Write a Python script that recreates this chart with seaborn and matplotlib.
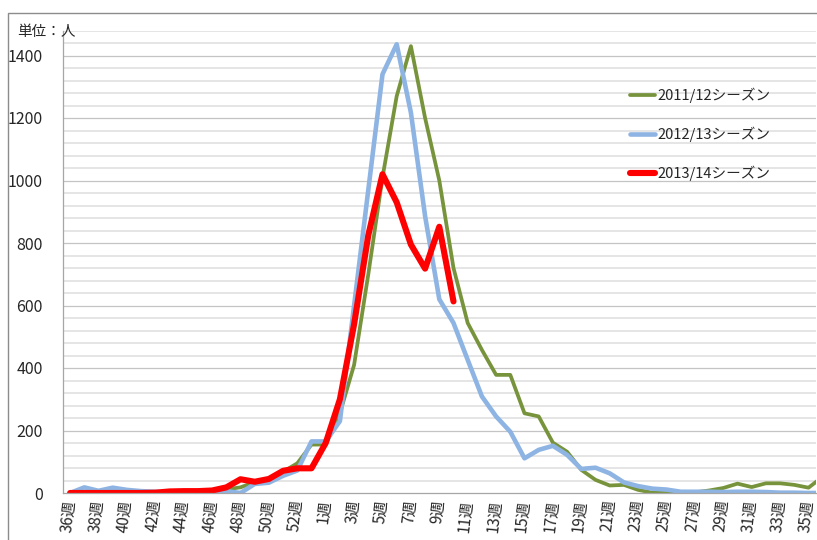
import numpy as np
import pandas as pd
import matplotlib
matplotlib.use("Agg")
import matplotlib.pyplot as plt
import seaborn as sns
from matplotlib.patches import Rectangle
from matplotlib.ticker import FixedLocator

# ---------------- data ----------------
weeks = ["36週", "37週", "38週", "39週", "40週", "41週", "42週", "43週", "44週",
         "45週", "46週", "47週", "48週", "49週", "50週", "51週", "52週", "53週",
         "1週", "2週", "3週", "4週", "5週", "6週", "7週", "8週", "9週", "10週",
         "11週", "12週", "13週", "14週", "15週", "16週", "17週", "18週", "19週",
         "20週", "21週", "22週", "23週", "24週", "25週", "26週", "27週", "28週",
         "29週", "30週", "31週", "32週", "33週", "34週", "35週", "36週"]

season_1112 = [2, 2, 2, 2, 2, 2, 2, 3, 5, 7, 9, 12, 18, 35, 42, 68, 95, 155,
               155, 255, 410, 700, 1010, 1270, 1430, 1200, 1000, 720, 544, 458,
               378, 378, 255, 245, 161, 132, 74, 42, 24, 26, 10, 1, 0, 0,
               2, 8, 16, 30, 19, 31, 31, 26, 17, 52]

season_1213 = [0, 18, 7, 17, 10, 6, 4, 2, 2, 3, 5, 6, 0, 29, 33, 55, 72, 165,
               165, 230, 600, 970, 1340, 1436, 1217, 886, 620, 544, 426, 309,
               245, 196, 111, 138, 151, 122, 77, 81, 63, 34, 22, 14, 11, 4,
               4, 4, 3, 4, 4, 3, 1, 1, 0, 0]

season_1314 = [0, 0, 0, 0, 0, 0, 1, 5, 6, 6, 8, 18, 44, 36, 45, 71, 79, 79,
               160, 300, 540, 825, 1020, 930, 795, 718, 852, 613]

labels = ["2011/12シーズン", "2012/13シーズン", "2013/14シーズン"]
colors = ["#77933C", "#8EB4E3", "#FF0000"]
widths = [2.7, 3.3, 4.4]

# ---------------- style ----------------
sns.set_style("white")
plt.rcParams['font.family'] = ['Noto Sans CJK JP', 'DejaVu Sans']

W, H = 817, 540
fig = plt.figure(figsize=(W / 100, H / 100), dpi=100)
ax = fig.add_axes([63 / W, 47 / H, 752.6 / W, 462.5 / H])

idx = np.arange(len(weeks))
series = [season_1112, season_1213, season_1314]
for vals, lab, col, lw in zip(series, labels, colors, widths):
    x = idx[:len(vals)]
    d = pd.DataFrame({"x": x, "y": vals})
    sns.lineplot(data=d, x="x", y="y", ax=ax, color=col, linewidth=lw,
                 label=lab, sort=False, solid_joinstyle="round",
                 solid_capstyle="round")

ax.set_xlim(-0.5, 52.5)
ax.set_ylim(0, 1480)
ax.set_xlabel("")
ax.set_ylabel("")

# grid lines
for v in range(40, 1481, 40):
    if v % 200 == 0:
        ax.axhline(v, color="#C4C4C4", lw=0.9, zorder=0)
    else:
        ax.axhline(v, color="#DEDEDE", lw=1.1, zorder=0)

# ticks
major_x = [i for i in range(len(weeks)) if i % 2 == 0 and i <= 52]
ax.xaxis.set_major_locator(FixedLocator(major_x))
ax.set_xticklabels([weeks[i] for i in major_x])
ax.xaxis.set_minor_locator(FixedLocator(np.arange(-0.5, 53, 1.0)))
ax.tick_params(axis="x", which="major", length=0, pad=5, labelsize=11,
               labelcolor="#262626")
ax.tick_params(axis="x", which="minor", length=5, width=0.8, color="#A6A6A6",
               direction="out")
for t in ax.get_xticklabels():
    t.set_rotation(84)
    t.set_rotation_mode("anchor")
    t.set_ha("right")
    t.set_va("center")

ax.set_yticks(range(0, 1401, 200))
ax.tick_params(axis="y", length=5, width=0.8, color="#A6A6A6", pad=9.5,
               labelsize=11.5, labelcolor="#262626")

for s in ["top", "right"]:
    ax.spines[s].set_visible(False)
for s in ["left", "bottom"]:
    ax.spines[s].set_color("#A6A6A6")
    ax.spines[s].set_linewidth(0.9)

ax.legend(loc="upper left", bbox_to_anchor=(630 / W, 1 - 88 / H),
          bbox_transform=fig.transFigure, frameon=False, fontsize=10.5,
          handlelength=1.7, handletextpad=0.15, labelspacing=1.62,
          borderpad=0, borderaxespad=0)

fig.text(17 / W, 1 - 32 / H, "単位：人", ha="left", va="center", fontsize=10.5,
         color="#262626")

fig.add_artist(Rectangle((8 / W, -0.1), 1.2, (H - 13) / H + 0.1,
                         transform=fig.transFigure, fill=False,
                         edgecolor="#8C8C8C", lw=1.0, zorder=10))

fig.savefig("out.png", dpi=100)
